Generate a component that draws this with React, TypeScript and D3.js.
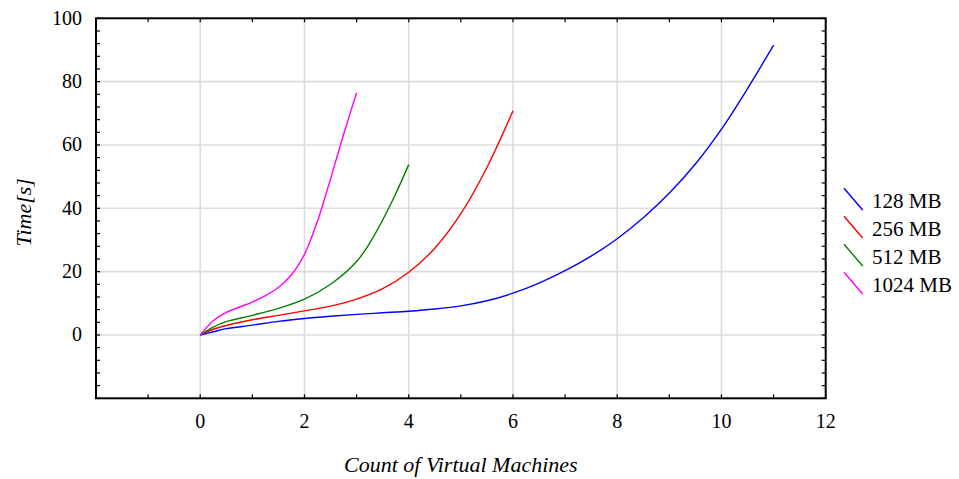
import React from "react";
import * as d3 from "d3";

const seriesNames = ["128 MB", "256 MB", "512 MB", "1024 MB"];
const seriesColors = ["#0000ff", "#ff0000", "#008000", "#ff00ff"];

const x128 = [0, 0.25, 0.5, 1, 1.5, 2, 2.5, 3, 3.5, 4, 4.5, 5, 5.5, 6, 6.5, 7, 7.5, 8, 8.5, 9, 9.5, 10, 10.5, 11];
const y128 = [0, 1.0, 2.0, 3.1, 4.3, 5.2, 5.9, 6.5, 7.0, 7.5, 8.2, 9.2, 10.8, 13.2, 16.4, 20.3, 24.9, 30.4, 37.0, 44.8, 54.0, 65.0, 77.8, 91.5];

const x256 = [0, 0.25, 0.5, 1, 1.5, 2, 2.5, 3, 3.5, 4, 4.5, 5, 5.5, 6];
const y256 = [0, 1.8, 3.0, 4.8, 6.2, 7.6, 9.1, 11.3, 14.6, 19.8, 27.4, 38.3, 52.9, 70.8];

const x512 = [0, 0.25, 0.5, 1, 1.5, 2, 2.5, 3, 3.25, 3.5, 3.75, 4];
const y512 = [0, 2.5, 4.2, 6.2, 8.4, 11.3, 16.0, 23.2, 29.0, 36.3, 44.6, 53.8];

const x1024 = [0, 0.25, 0.5, 1, 1.25, 1.5, 1.75, 2, 2.25, 2.5, 2.75, 3];
const y1024 = [0, 4.5, 7.1, 10.4, 12.4, 15.0, 19.0, 25.5, 36.0, 49.3, 63.3, 76.5];

const xTickLabels = [0, 2, 4, 6, 8, 10, 12];
const yTickLabels = [0, 20, 40, 60, 80, 100];

const W = 959;
const H = 479;
const L = 96, R = 825.7, T = 18.3, B = 398.3;

export default function App() {
  const xs = d3.scaleLinear().domain([-2, 12]).range([L, R]);
  const ys = d3.scaleLinear().domain([-20, 100]).range([B, T]);
  const line = d3
    .line<[number, number]>()
    .x((d) => xs(d[0]))
    .y((d) => ys(d[1]))
    .curve(d3.curveCatmullRom.alpha(0.5));

  const series = [
    [x128, y128],
    [x256, y256],
    [x512, y512],
    [x1024, y1024],
  ].map(([xv, yv]) => xv.map((x, i) => [x, yv[i]] as [number, number]));

  const xMinor = d3.range(-2, 12.001, 1);
  const yMinor = d3.range(-20, 100.001, 4);
  const xGrid = [0, 2, 4, 6, 8, 10];
  const yGrid = [0, 20, 40, 60, 80];
  const tickFont = "'Liberation Serif', 'Times New Roman', serif";

  const legendBase = [208.3, 236.3, 264.3, 292.3];

  return (
    <svg
      width={W}
      height={H}
      style={{ position: "absolute", left: 0, top: 0, background: "#fff" }}
    >
      <rect x={0} y={0} width={W} height={H} fill="#fff" />
      {xGrid.map((v) => (
        <line key={"gx" + v} x1={xs(v)} x2={xs(v)} y1={T} y2={B} stroke="#dcdcdc" strokeWidth={1.6} />
      ))}
      {yGrid.map((v) => (
        <line key={"gy" + v} x1={L} x2={R} y1={ys(v)} y2={ys(v)} stroke="#dcdcdc" strokeWidth={1.6} />
      ))}
      {xMinor.map((v) => (
        <g key={"tx" + v}>
          <line x1={xs(v)} x2={xs(v)} y1={B} y2={B - 4} stroke="#000" strokeWidth={1.2} />
          <line x1={xs(v)} x2={xs(v)} y1={T} y2={T + 4} stroke="#000" strokeWidth={1.2} />
        </g>
      ))}
      {yMinor.map((v) => (
        <g key={"ty" + v}>
          <line x1={L} x2={L + 4} y1={ys(v)} y2={ys(v)} stroke="#000" strokeWidth={1.2} />
          <line x1={R} x2={R - 4} y1={ys(v)} y2={ys(v)} stroke="#000" strokeWidth={1.2} />
        </g>
      ))}
      <rect x={L} y={T} width={R - L} height={B - T} fill="none" stroke="#000" strokeWidth={2} />
      {series.map((pts, i) => (
        <path key={"s" + i} d={line(pts) || ""} fill="none" stroke={seriesColors[i]} strokeWidth={1.4} />
      ))}
      {xTickLabels.map((v) => (
        <text key={"lx" + v} x={xs(v)} y={B + 30} textAnchor="middle" fontFamily={tickFont} fontSize={20} fill="#000">
          {v}
        </text>
      ))}
      {yTickLabels.map((v) => (
        <text key={"ly" + v} x={L - 14} y={ys(v) + 6.5} textAnchor="end" fontFamily={tickFont} fontSize={20} fill="#000">
          {v}
        </text>
      ))}
      <text
        x={(L + R) / 2}
        y={472}
        textAnchor="middle"
        fontFamily={tickFont}
        fontStyle="italic"
        fontSize={22}
        fill="#000"
      >
        Count of Virtual Machines
      </text>
      <text
        transform={`translate(31, ${(T + B) / 2 + 4}) rotate(-90)`}
        textAnchor="middle"
        fontFamily={tickFont}
        fontStyle="italic"
        fontSize={22}
        fill="#000"
      >
        Time[s]
      </text>
      {seriesNames.map((name, i) => (
        <g key={"lg" + i}>
          <line
            x1={844}
            y1={legendBase[i] - 20}
            x2={862.7}
            y2={legendBase[i] + 1.7}
            stroke={seriesColors[i]}
            strokeWidth={1.4}
          />
          <text x={872} y={legendBase[i]} fontFamily={tickFont} fontSize={21} fill="#000">
            {name}
          </text>
        </g>
      ))}
    </svg>
  );
}
